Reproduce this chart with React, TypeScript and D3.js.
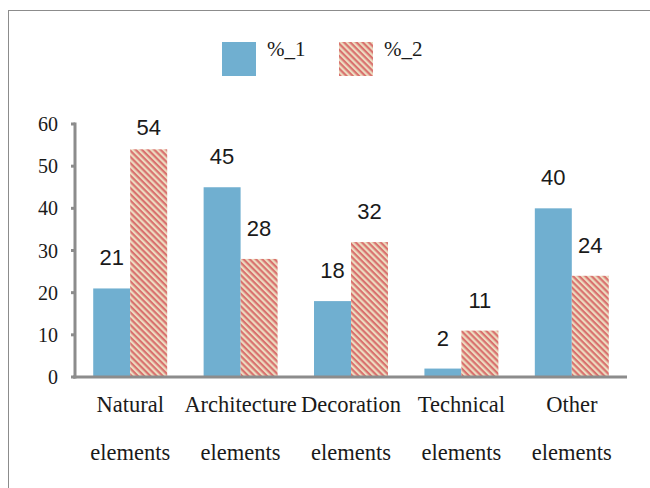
import React, { useEffect, useRef } from 'react';
import * as d3 from 'd3';

// data
const categories = ['Natural elements', 'Architecture elements', 'Decoration elements', 'Technical elements', 'Other elements'];
const series1 = [21, 45, 18, 2, 40];
const series2 = [54, 28, 32, 11, 24];
const seriesNames = ['%_1', '%_2'];
const yTicks = [0, 10, 20, 30, 40, 50, 60];

const W = 650;
const H = 488;
const BLUE = '#70afd0';
const RED = '#d9716e';
const BEIGE = '#ecdcc0';
const AXIS = '#8c8c8c';
const SERIF = '"Liberation Serif", "DejaVu Serif", serif';
const SANS = '"Liberation Sans", Arial, sans-serif';

const App: React.FC = () => {
  const svgRef = useRef<SVGSVGElement>(null);

  useEffect(() => {
    if (!svgRef.current) return;
    const svg = d3.select(svgRef.current);
    svg.selectAll('*').remove();

    const plot = { left: 75, right: 627, top: 124, bottom: 377 };

    // hatch pattern
    const defs = svg.append('defs');
    const pat = defs.append('pattern')
      .attr('id', 'hatch')
      .attr('patternUnits', 'userSpaceOnUse')
      .attr('width', 4.4)
      .attr('height', 4.4)
      .attr('patternTransform', 'rotate(45)');
    pat.append('rect').attr('width', 4.4).attr('height', 4.4).attr('fill', BEIGE);
    pat.append('rect').attr('width', 4.4).attr('height', 2.2).attr('fill', RED);

    // outer frame
    svg.append('rect')
      .attr('x', 8.5).attr('y', 10.5)
      .attr('width', W + 20).attr('height', H + 20)
      .attr('fill', 'none')
      .attr('stroke', AXIS)
      .attr('stroke-width', 1);

    const x0 = d3.scaleBand<string>()
      .domain(categories)
      .range([plot.left, plot.right])
      .paddingInner(0.33)
      .paddingOuter(0.165);

    const x1 = d3.scaleBand<string>()
      .domain(seriesNames)
      .range([0, x0.bandwidth()]);

    const y = d3.scaleLinear().domain([0, 60]).range([plot.bottom, plot.top]);

    const rows = categories.map((c, i) => ({ c, vals: [series1[i], series2[i]] }));

    const groups = svg.append('g')
      .selectAll('g')
      .data(rows)
      .join('g')
      .attr('transform', d => `translate(${x0(d.c)},0)`);

    groups.selectAll('rect')
      .data(d => d.vals.map((v, k) => ({ k, v })))
      .join('rect')
      .attr('x', d => x1(seriesNames[d.k])!)
      .attr('width', x1.bandwidth())
      .attr('y', d => y(d.v))
      .attr('height', d => y(0) - y(d.v))
      .attr('fill', d => (d.k === 0 ? BLUE : 'url(#hatch)'));

    groups.selectAll('text.val')
      .data(d => d.vals.map((v, k) => ({ k, v })))
      .join('text')
      .attr('class', 'val')
      .attr('x', d => x1(seriesNames[d.k])! + x1.bandwidth() / 2)
      .attr('y', d => Math.max(y(d.v) - 23, 135))
      .attr('text-anchor', 'middle')
      .style('font-family', SANS)
      .style('font-size', '22px')
      .style('fill', '#1a1a1a')
      .text(d => d.v);

    // y axis
    const yAxis = svg.append('g');
    yAxis.append('line')
      .attr('x1', plot.left).attr('x2', plot.left)
      .attr('y1', y(60) - 1.5).attr('y2', y(0) + 1.5)
      .attr('stroke', AXIS).attr('stroke-width', 3);
    yAxis.selectAll('line.tick')
      .data(yTicks)
      .join('line')
      .attr('class', 'tick')
      .attr('x1', plot.left - 4).attr('x2', plot.left)
      .attr('y1', d => y(d)).attr('y2', d => y(d))
      .attr('stroke', AXIS).attr('stroke-width', 3);
    yAxis.selectAll('text')
      .data(yTicks)
      .join('text')
      .attr('x', 58)
      .attr('y', d => y(d))
      .attr('dy', '0.35em')
      .attr('text-anchor', 'end')
      .style('font-family', SERIF)
      .style('font-size', '20px')
      .style('fill', '#1a1a1a')
      .text(d => d);

    // x axis
    svg.append('line')
      .attr('x1', plot.left - 2).attr('x2', plot.right)
      .attr('y1', y(0)).attr('y2', y(0))
      .attr('stroke', AXIS).attr('stroke-width', 3);

    const xl = svg.append('g')
      .selectAll('text')
      .data(categories)
      .join('text')
      .attr('x', d => x0(d)! + x0.bandwidth() / 2)
      .attr('y', 412)
      .attr('text-anchor', 'middle')
      .style('font-family', SERIF)
      .style('font-size', '22.5px')
      .style('fill', '#1a1a1a');
    xl.each(function (d) {
      const parts = d.split(' ');
      const t = d3.select(this);
      const cx = x0(d)! + x0.bandwidth() / 2;
      parts.forEach((p, i) => {
        t.append('tspan').attr('x', cx).attr('dy', i === 0 ? 0 : 47.5).text(p);
      });
    });

    // legend
    const legendX = [222, 339];
    const lg = svg.append('g')
      .selectAll('g')
      .data(seriesNames)
      .join('g')
      .attr('transform', (d, i) => `translate(${legendX[i]},42)`);
    lg.append('rect')
      .attr('width', 34).attr('height', 34)
      .attr('fill', (d, i) => (i === 0 ? BLUE : 'url(#hatch)'));
    lg.append('text')
      .attr('x', 45).attr('y', 14)
      .style('font-family', SERIF)
      .style('font-size', '21px')
      .style('fill', '#1a1a1a')
      .text(d => d);
  }, []);

  return (
    <svg
      ref={svgRef}
      width={W}
      height={H}
      style={{ position: 'absolute', left: 0, top: 0, background: '#fff' }}
    />
  );
};

export default App;
